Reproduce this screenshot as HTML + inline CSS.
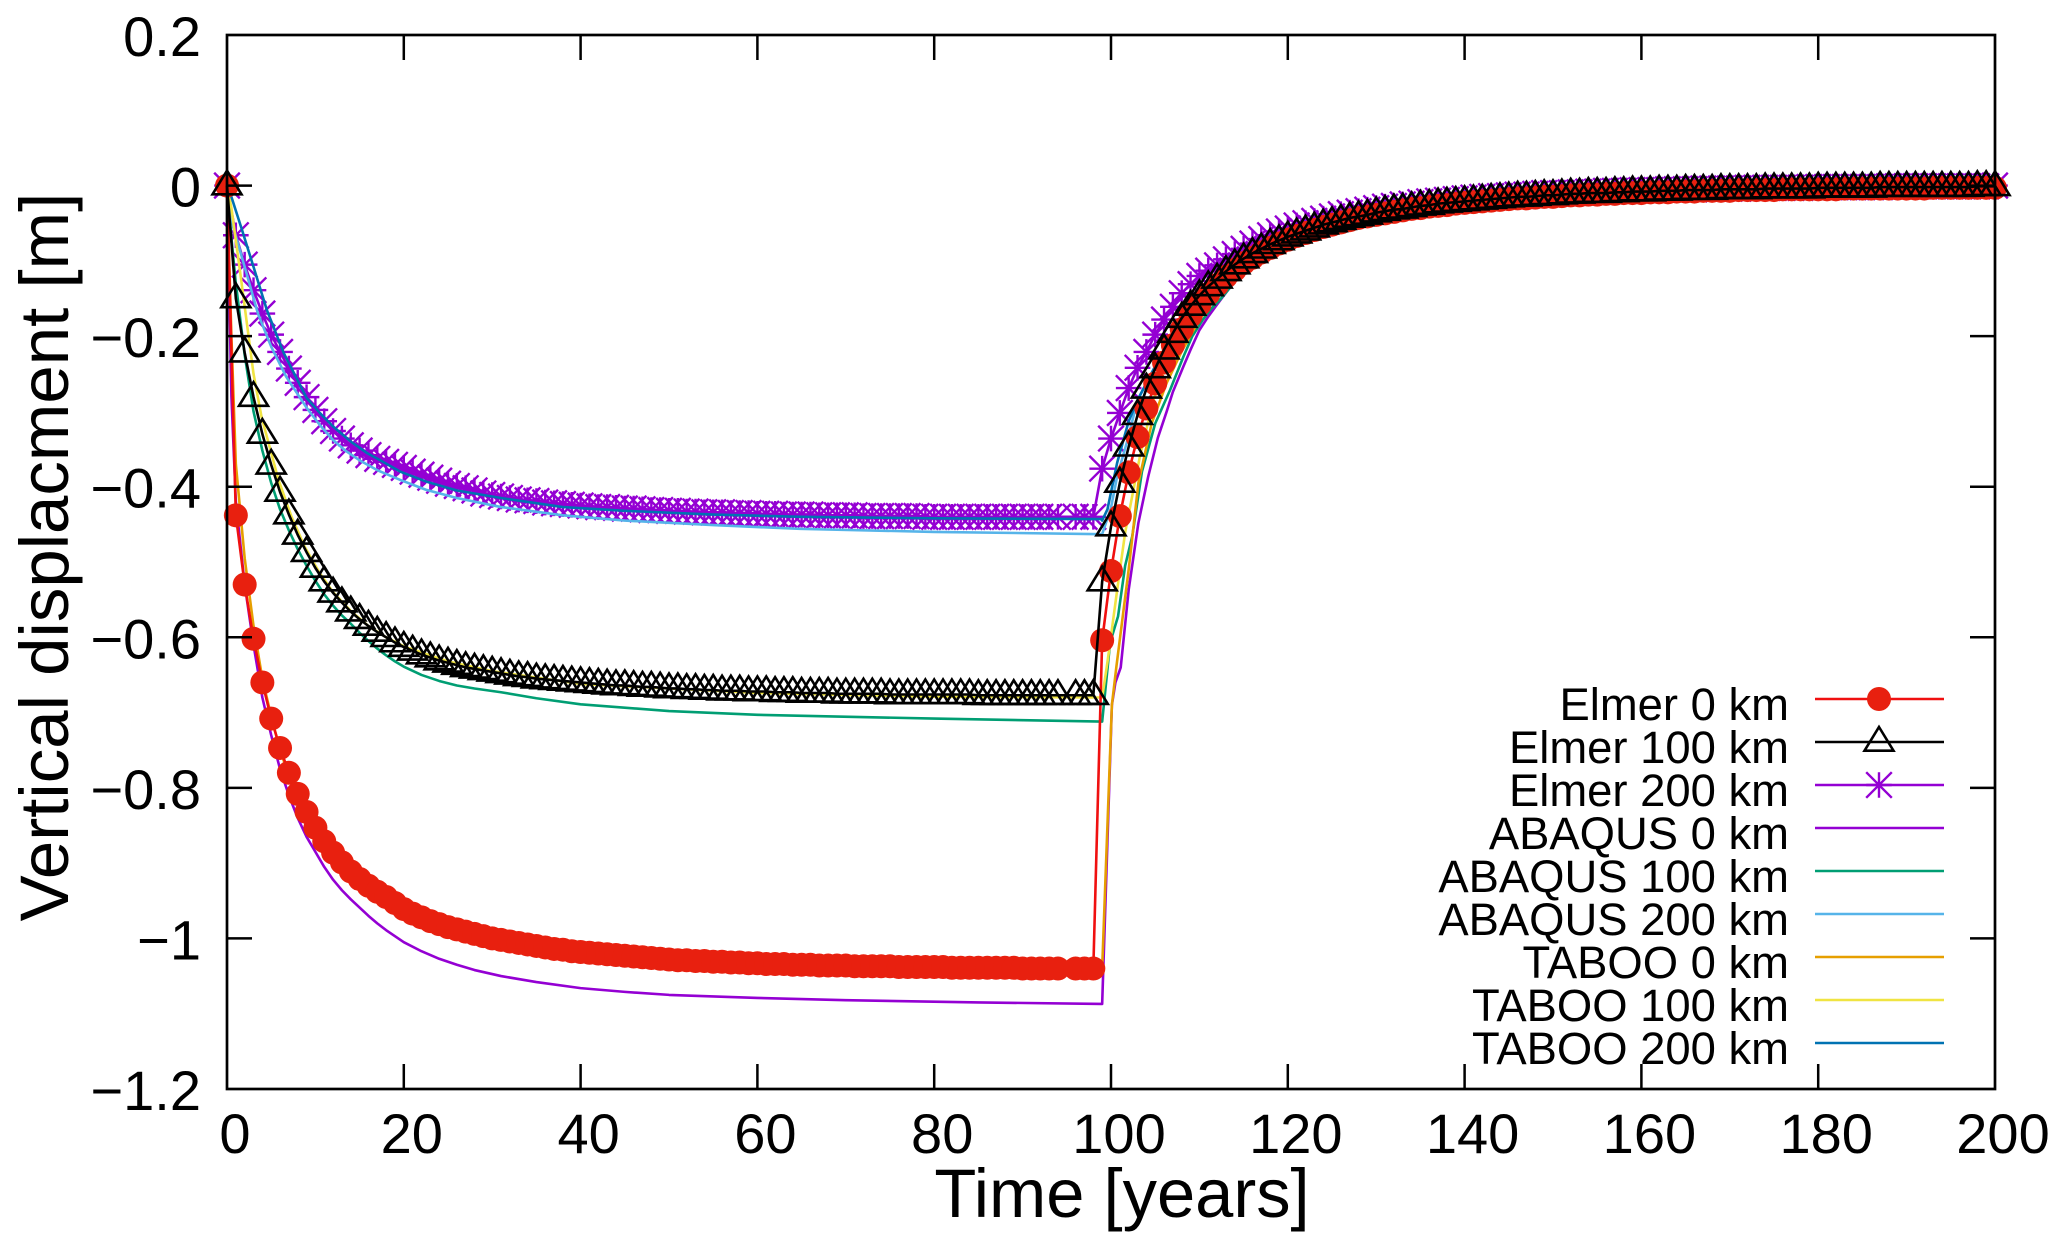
<!DOCTYPE html>
<html>
<head>
<meta charset="utf-8">
<title>Vertical displacement over time</title>
<style>
html,body{margin:0;padding:0;background:#fff;width:2067px;height:1250px;overflow:hidden}
svg{display:block}
text{font-family:"Liberation Sans",Arial,sans-serif;fill:#000}
</style>
</head>
<body>
<svg id="chart" xmlns="http://www.w3.org/2000/svg" width="2067" height="1250" viewBox="0 0 2067 1250">
  <text x="1122" y="1217" font-size="68.7" text-anchor="middle">Time [years]</text>
  <text transform="translate(68,557) rotate(-90)" font-size="69" text-anchor="middle">Vertical displacment [m]</text>
  <g id="series"></g>
  <rect x="227" y="35" width="1768" height="1054" fill="none" stroke="#000" stroke-width="2.7"></rect>
  <g id="axes"></g>
  <g id="legend"></g>
</svg>
<script>
const xTicks = [0,20,40,60,80,100,120,140,160,180,200];
const yTicks = [0.2,0,-0.2,-0.4,-0.6,-0.8,-1,-1.2];
const yTickLabels = ["0.2","0","\u22120.2","\u22120.4","\u22120.6","\u22120.8","\u22121","\u22121.2"];

const elmerYears = [
0,1,2,3,4,5,6,7,8,9,
10,11,12,13,14,15,16,17,18,19,
20,21,22,23,24,25,26,27,28,29,
30,31,32,33,34,35,36,37,38,39,
40,41,42,43,44,45,46,47,48,49,
50,51,52,53,54,55,56,57,58,59,
60,61,62,63,64,65,66,67,68,69,
70,71,72,73,74,75,76,77,78,79,
80,81,82,83,84,85,86,87,88,89,
90,91,92,93,94,95,96,97,98,99,
100,101,102,103,104,105,106,107,108,109,
110,111,112,113,114,115,116,117,118,119,
120,121,122,123,124,125,126,127,128,129,
130,131,132,133,134,135,136,137,138,139,
140,141,142,143,144,145,146,147,148,149,
150,151,152,153,154,155,156,157,158,159,
160,161,162,163,164,165,166,167,168,169,
170,171,172,173,174,175,176,177,178,179,
180,181,182,183,184,185,186,187,188,189,
190,191,192,193,194,195,196,197,198,199,
200];

const elmer0km = [
0,-.438,-.530,-.602,-.660,-.708,-.747,-.780,-.808,-.832,
-.853,-.871,-.886,-.899,-.911,-.921,-.930,-.938,-.945,-.953,
-.961,-.967,-.972,-.977,-.981,-.985,-.988,-.991,-.994,-.997,
-1.000,-1.002,-1.004,-1.006,-1.008,-1.010,-1.012,-1.014,-1.015,-1.017,
-1.018,-1.019,-1.020,-1.021,-1.022,-1.023,-1.024,-1.025,-1.026,-1.027,
-1.028,-1.029,-1.029,-1.030,-1.030,-1.031,-1.031,-1.032,-1.032,-1.033,
-1.033,-1.034,-1.034,-1.034,-1.035,-1.035,-1.035,-1.036,-1.036,-1.036,
-1.036,-1.037,-1.037,-1.037,-1.037,-1.037,-1.038,-1.038,-1.038,-1.038,
-1.038,-1.038,-1.039,-1.039,-1.039,-1.039,-1.039,-1.039,-1.039,-1.039,
-1.040,-1.040,-1.040,-1.040,-1.040,null,-1.040,-1.040,-1.040,-.604,
-.512,-.439,-.381,-.334,-.296,-.263,-.235,-.212,-.191,-.173,
-.158,-.144,-.132,-.121,-.112,-.103,-.096,-.089,-.083,-.077,
-.072,-.067,-.063,-.059,-.055,-.052,-.049,-.046,-.043,-.041,
-.039,-.037,-.035,-.033,-.031,-.030,-.028,-.027,-.026,-.024,
-.023,-.022,-.021,-.020,-.019,-.018,-.017,-.017,-.016,-.015,
-.015,-.014,-.013,-.013,-.012,-.012,-.011,-.011,-.010,-.010,
-.010,-.009,-.009,-.009,-.008,-.008,-.008,-.007,-.007,-.007,
-.007,-.006,-.006,-.006,-.006,-.006,-.005,-.005,-.005,-.005,
-.005,-.005,-.005,-.004,-.004,-.004,-.004,-.004,-.004,-.004,
-.004,-.004,-.004,-.003,-.003,-.003,-.003,-.003,-.003,-.003,
-.003];

const elmer100km = [
0,-.150,-.222,-.281,-.330,-.371,-.407,-.437,-.464,-.487,
-.508,-.526,-.541,-.554,-.566,-.576,-.585,-.593,-.600,-.607,
-.613,-.618,-.623,-.627,-.631,-.634,-.637,-.640,-.642,-.644,
-.646,-.648,-.650,-.652,-.653,-.655,-.656,-.657,-.658,-.659,
-.660,-.661,-.662,-.663,-.664,-.664,-.665,-.666,-.666,-.667,
-.668,-.668,-.669,-.669,-.670,-.670,-.671,-.671,-.671,-.672,
-.672,-.672,-.673,-.673,-.673,-.674,-.674,-.674,-.674,-.675,
-.675,-.675,-.675,-.675,-.675,-.676,-.676,-.676,-.676,-.676,
-.676,-.676,-.676,-.676,-.676,-.677,-.677,-.677,-.677,-.677,
-.677,-.677,-.677,-.677,-.677,null,-.677,-.677,-.677,-.526,
-.453,-.395,-.347,-.305,-.270,-.243,-.218,-.196,-.176,-.160,
-.146,-.134,-.124,-.114,-.105,-.097,-.090,-.084,-.078,-.073,
-.068,-.064,-.060,-.056,-.052,-.049,-.046,-.043,-.041,-.039,
-.036,-.034,-.032,-.031,-.029,-.027,-.026,-.024,-.023,-.022,
-.021,-.020,-.019,-.018,-.017,-.016,-.015,-.015,-.014,-.013,
-.013,-.012,-.011,-.011,-.010,-.010,-.010,-.009,-.009,-.008,
-.008,-.008,-.007,-.007,-.007,-.006,-.006,-.006,-.006,-.005,
-.005,-.005,-.005,-.005,-.004,-.004,-.004,-.004,-.004,-.004,
-.003,-.003,-.003,-.003,-.003,-.003,-.003,-.002,-.002,-.002,
-.002,-.002,-.002,-.002,-.002,-.002,-.002,-.002,-.001,-.001,
-.001];

const elmer200km = [
0,-.066,-.105,-.139,-.170,-.198,-.221,-.243,-.262,-.281,
-.298,-.313,-.326,-.336,-.345,-.352,-.358,-.363,-.367,-.371,
-.375,-.380,-.384,-.388,-.392,-.396,-.399,-.402,-.405,-.409,
-.411,-.413,-.415,-.417,-.418,-.419,-.421,-.422,-.423,-.424,
-.425,-.426,-.427,-.427,-.428,-.429,-.429,-.430,-.431,-.431,
-.432,-.432,-.433,-.433,-.434,-.434,-.434,-.435,-.435,-.435,
-.436,-.436,-.436,-.437,-.437,-.437,-.437,-.438,-.438,-.438,
-.438,-.438,-.439,-.439,-.439,-.439,-.439,-.439,-.439,-.440,
-.440,-.440,-.440,-.440,-.440,-.440,-.440,-.440,-.440,-.440,
-.440,-.440,-.440,-.440,-.440,null,-.440,-.440,-.440,-.376,
-.336,-.302,-.269,-.242,-.221,-.198,-.178,-.161,-.143,-.131,
-.120,-.113,-.106,-.098,-.091,-.084,-.077,-.071,-.066,-.061,
-.057,-.053,-.050,-.047,-.044,-.041,-.038,-.036,-.034,-.032,
-.030,-.028,-.027,-.025,-.024,-.022,-.021,-.020,-.019,-.018,
-.017,-.016,-.015,-.014,-.014,-.013,-.012,-.012,-.011,-.010,
-.010,-.010,-.009,-.009,-.008,-.008,-.007,-.007,-.007,-.006,
-.006,-.006,-.006,-.005,-.005,-.005,-.005,-.004,-.004,-.004,
-.004,-.004,-.003,-.003,-.003,-.003,-.003,-.003,-.003,-.002,
-.002,-.002,-.002,-.002,-.002,-.002,-.002,-.002,-.001,-.001,
-.001,-.001,-.001,-.001,-.001,-.001,-.001,-.001,-.001,-.001,
0];

const abaqus0Years = [0,0.5,1,2,3,4,5,6,7,8,9,10,11,12,13,14,15,16,17,18,19,20,22,24,26,28,31,35,40,45,50,60,70,85,98.9,99,100.1,100.5,101.1,102,103.1,104.2,105.3,106.3,107,108.2,109,110,111,112,113.8,115.7,117.5,119.5,121.5,123.3,126,130,135,140,150,160,180,200];
const abaqus0km = [0,-.28,-.42,-.53,-.61,-.68,-.73,-.775,-.81,-.84,-.865,-.885,-.905,-.922,-.936,-.948,-.959,-.970,-.980,-.989,-.997,-1.005,-1.017,-1.027,-1.035,-1.042,-1.050,-1.058,-1.066,-1.071,-1.075,-1.079,-1.082,-1.085,-1.087,-1.087,-.69,-.66,-.64,-.537,-.448,-.387,-.335,-.30,-.274,-.240,-.218,-.192,-.174,-.158,-.130,-.107,-.089,-.073,-.060,-.050,-.040,-.030,-.022,-.017,-.010,-.007,-.003,-.001];

const abaqus100Years = [0,0.5,1,2,3,4,5,6,7,8,9,10,11,12,13,14,15,16,17,18,19,20,22,24,26,28,31,35,40,50,60,80,98.9,99,99.9,100.8,101.6,102.4,103.5,105,106.7,108.2,109.2,110.4,111.3,112.3,114,116,118,120,125,130,140,160,200];
const abaqus100km = [0,-.07,-.13,-.225,-.30,-.352,-.395,-.43,-.458,-.483,-.505,-.525,-.543,-.558,-.571,-.582,-.594,-.605,-.615,-.624,-.632,-.639,-.650,-.658,-.664,-.668,-.673,-.681,-.689,-.698,-.703,-.708,-.712,-.712,-.607,-.572,-.505,-.466,-.38,-.316,-.271,-.227,-.200,-.178,-.164,-.152,-.128,-.105,-.087,-.073,-.048,-.031,-.017,-.007,-.001];

const abaqus200Years = [0,0.7,2,3.5,5,6.7,9,10.5,12,13.5,15,17,19.6,22.5,26,31,38,45,55,64.8,80,98.9,99,100,100.7,101.8,103,105,108,110,115,120,130,140,160,200];
const abaqus200km = [0,-.055,-.108,-.17,-.214,-.254,-.295,-.318,-.338,-.353,-.365,-.378,-.391,-.404,-.415,-.427,-.438,-.445,-.451,-.456,-.460,-.463,-.463,-.428,-.386,-.341,-.285,-.24,-.185,-.16,-.11,-.075,-.035,-.019,-.007,-.001];

const taboo0Years = [0,0.5,1,2,3,4,5,6,7.5,10,12,15,20,25,31,40,50,70,98.9,99,100.1,100.6,102,103.1,104.6,106.3,108,110,112,115,120,125,130,140,160,200];
const taboo0km = [0,-.2,-.37,-.495,-.585,-.655,-.705,-.75,-.80,-.855,-.89,-.925,-.962,-.985,-1.002,-1.018,-1.028,-1.036,-1.04,-1.04,-.69,-.64,-.51,-.395,-.316,-.262,-.22,-.178,-.147,-.108,-.070,-.048,-.032,-.018,-.007,-.001];

const taboo100Years = [0,0.5,1.5,3,3.9,5.8,7.3,8.8,10.5,12,14,16,18,20,25,30,40,60,80,98.9,99,99.6,100.7,101.6,103.3,104.8,107,110,115,120,130,140,160,200];
const taboo100km = [0,-.03,-.116,-.25,-.307,-.39,-.44,-.48,-.515,-.54,-.565,-.585,-.60,-.612,-.632,-.645,-.662,-.674,-.679,-.68,-.68,-.633,-.537,-.461,-.358,-.285,-.215,-.155,-.10,-.066,-.03,-.016,-.006,-.001];

const taboo200Years = [0,0.5,1.7,3,4.5,6.4,9,10.5,12,14,15.8,17.5,19.6,22.5,26,31,38,45,55,65,80,98.9,99,99.6,100.7,102,103,105,108,110,115,120,130,140,160,200];
const taboo200km = [0,-.015,-.059,-.108,-.165,-.222,-.282,-.302,-.32,-.34,-.355,-.366,-.38,-.393,-.405,-.415,-.427,-.432,-.437,-.44,-.442,-.443,-.445,-.43,-.368,-.313,-.285,-.24,-.185,-.155,-.105,-.072,-.034,-.018,-.007,-.001];

const legendLabels = ["Elmer 0 km","Elmer 100 km","Elmer 200 km","ABAQUS 0 km","ABAQUS 100 km","ABAQUS 200 km","TABOO 0 km","TABOO 100 km","TABOO 200 km"];

const NS = "http://www.w3.org/2000/svg";
const plotLeft = 227, plotRight = 1995, plotTop = 35, plotBottom = 1089;
const xMin = 0, xMax = 200, yMin = -1.2, yMax = 0.2;
function xScale(v){ return plotLeft + (v - xMin) / (xMax - xMin) * (plotRight - plotLeft); }
function yScale(v){ return plotBottom - (v - yMin) / (yMax - yMin) * (plotBottom - plotTop); }
function make(tag, attrs){
  const el = document.createElementNS(NS, tag);
  for (const k in attrs) el.setAttribute(k, attrs[k]);
  return el;
}
const RED = "#e8200f", BLACK = "#000", VIOLET = "#9400d3", GREEN = "#009e73", SKY = "#56b4e9", ORANGE = "#e69f00", YELLOW = "#f0e442", BLUE = "#0072b2";

function pathFrom(xs, ys){
  let d = "";
  for (let i = 0; i < xs.length; i++){
    if (ys[i] === null) continue;
    d += (d ? "L" : "M") + xScale(xs[i]).toFixed(2) + " " + yScale(ys[i]).toFixed(2);
  }
  return d;
}
function drawLine(parent, xs, ys, color, name){
  const p = make("path", {d: pathFrom(xs, ys), fill: "none", stroke: color, "stroke-width": 2.6, "stroke-linejoin": "round"});
  
  
  parent.appendChild(p);
}
function markerCircle(parent, x, y){
  const c = make("circle", {cx: x, cy: y, r: 12, fill: RED});
  
  
  parent.appendChild(c);
}
function markerTriangle(parent, x, y){
  const pts = [[x, y - 15], [x + 14.5, y + 8.7], [x - 14.5, y + 8.7]].map(function(p){ return p[0].toFixed(2) + "," + p[1].toFixed(2); }).join(" ");
  const t = make("polygon", {points: pts, fill: "none", stroke: BLACK, "stroke-width": 2.6, "stroke-linejoin": "miter"});
  
  
  parent.appendChild(t);
}
function markerStar(parent, x, y){
  const s = 12.8;
  const d = "M" + (x - s) + " " + y + "H" + (x + s) +
    "M" + x + " " + (y - s) + "V" + (y + s) +
    "M" + (x - s) + " " + (y - s) + "L" + (x + s) + " " + (y + s) +
    "M" + (x - s) + " " + (y + s) + "L" + (x + s) + " " + (y - s);
  const p = make("path", {d: d, fill: "none", stroke: VIOLET, "stroke-width": 2.4});
  
  
  parent.appendChild(p);
}
function drawPoints(parent, xs, ys, marker){
  for (let i = 0; i < xs.length; i++){
    if (ys[i] === null) continue;
    marker(parent, xScale(xs[i]), yScale(ys[i]));
  }
}
function addGroup(parent, name){
  const g = make("g", {});
  
  
  parent.appendChild(g);
  return g;
}

const seriesRoot = document.getElementById("series");
const g200 = addGroup(seriesRoot, "series-elmer-200km");
drawLine(g200, elmerYears, elmer200km, VIOLET, "elmer-200km-line");
drawPoints(g200, elmerYears, elmer200km, markerStar);
const gA0 = addGroup(seriesRoot, "series-abaqus-0km");
drawLine(gA0, abaqus0Years, abaqus0km, VIOLET, "abaqus-0km-line");
const gA100 = addGroup(seriesRoot, "series-abaqus-100km");
drawLine(gA100, abaqus100Years, abaqus100km, GREEN, "abaqus-100km-line");
const gA200 = addGroup(seriesRoot, "series-abaqus-200km");
drawLine(gA200, abaqus200Years, abaqus200km, SKY, "abaqus-200km-line");
const gT0 = addGroup(seriesRoot, "series-taboo-0km");
drawLine(gT0, taboo0Years, taboo0km, ORANGE, "taboo-0km-line");
const gT100 = addGroup(seriesRoot, "series-taboo-100km");
drawLine(gT100, taboo100Years, taboo100km, YELLOW, "taboo-100km-line");
const gT200 = addGroup(seriesRoot, "series-taboo-200km");
drawLine(gT200, taboo200Years, taboo200km, BLUE, "taboo-200km-line");
const g0 = addGroup(seriesRoot, "series-elmer-0km");
drawLine(g0, elmerYears, elmer0km, "#f01010", "elmer-0km-line");
drawPoints(g0, elmerYears, elmer0km, markerCircle);
const g100 = addGroup(seriesRoot, "series-elmer-100km");
drawLine(g100, elmerYears, elmer100km, BLACK, "elmer-100km-line");
drawPoints(g100, elmerYears, elmer100km, markerTriangle);

const axesRoot = document.getElementById("axes");
const tickLen = 25;
xTicks.forEach(function(v){
  const x = xScale(v);
  if (v !== xMin && v !== xMax){
    const b = make("path", {d: "M" + x + " " + plotBottom + "v" + (-tickLen) + "M" + x + " " + plotTop + "v" + tickLen, stroke: "#000", "stroke-width": 2.5, fill: "none"});
    
    
    axesRoot.appendChild(b);
  }
  const t = make("text", {x: x + 8, y: 1153, "font-size": 56, "text-anchor": "middle"});
  
  
  t.textContent = String(v);
  axesRoot.appendChild(t);
});
yTicks.forEach(function(v, i){
  const y = yScale(v);
  if (v !== yMin && v !== yMax){
    const b = make("path", {d: "M" + plotLeft + " " + y + "h" + tickLen + "M" + plotRight + " " + y + "h" + (-tickLen), stroke: "#000", "stroke-width": 2.5, fill: "none"});
    
    
    axesRoot.appendChild(b);
  }
  const t = make("text", {x: 201, y: y + 21, "font-size": 56, "text-anchor": "end"});
  
  
  t.textContent = yTickLabels[i];
  axesRoot.appendChild(t);
});

const legendRoot = document.getElementById("legend");
const legendColors = ["#f01010", BLACK, VIOLET, VIOLET, GREEN, SKY, ORANGE, YELLOW, BLUE];
const legendMarkers = [markerCircle, markerTriangle, markerStar, null, null, null, null, null, null];
legendLabels.forEach(function(label, i){
  const y = 699 + i * 43;
  const row = addGroup(legendRoot, "legend-entry");
  const t = make("text", {x: 1789, y: y + 21, "font-size": 45.4, "text-anchor": "end"});
  
  
  t.textContent = label;
  row.appendChild(t);
  const l = make("line", {x1: 1815, x2: 1944, y1: y, y2: y, stroke: legendColors[i], "stroke-width": 2.4});
  
  
  row.appendChild(l);
  if (legendMarkers[i]) legendMarkers[i](row, 1879, y);
});
</script>
</body>
</html>
